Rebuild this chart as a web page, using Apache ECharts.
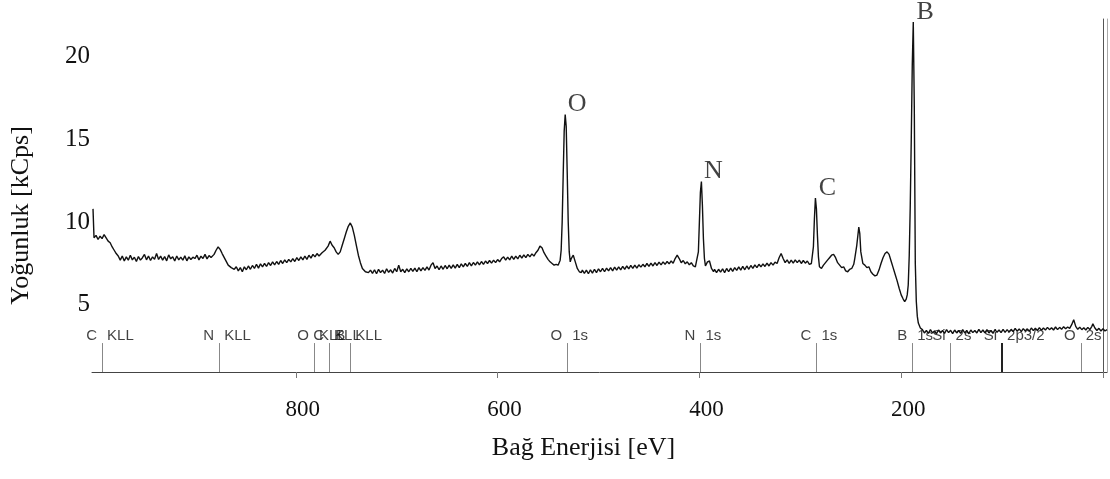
<!DOCTYPE html>
<html>
<head>
<meta charset="utf-8">
<script src="https://cdn.jsdelivr.net/npm/echarts@6/dist/echarts.min.js"></script>
<style>
  html, body { margin: 0; padding: 0; background: #fff; }
  #chart { width: 1110px; height: 479px; }
</style>
</head>
<body>
<div id="chart"></div>
<script>
// XPS survey spectrum: [binding energy eV, intensity kCps]
const spectrum = [
  [1001,10.8],[1000,9.05],[998,9.2],[996,8.95],[994,9.15],[992,9.0],[990,9.25],[988,9.05],[986,8.85],[984,8.75],[982,8.5],[980,8.3],[978,8.1],[976,7.95],
  [974,7.7],[972,7.95],[970,7.65],[968,7.9],[966,7.7],[964,8.0],[962,7.72],[960,7.88],[958,7.62],[956,7.92],[954,7.7],[952,7.85],[950,8.05],[948,7.72],[946,7.95],[944,7.68],[942,7.9],[940,7.75],[938,8.1],[936,7.74],[934,7.95],[932,7.7],[930,7.92],[928,7.66],[926,8.02],[924,7.78],[922,7.9],[920,7.65],[918,7.95],[916,7.72],[914,7.88],[912,7.7],[910,7.96],[908,7.66],[906,7.9],[904,7.74],[902,7.88],[900,7.8],[898,8.0],[896,7.72],[894,7.94],[892,7.8],[890,8.05],[888,7.78],[886,7.98],[884,7.86],
  [881,8.05],[879,8.3],[877,8.5],[875,8.35],[873,8.1],[870,7.75],[867,7.4],[864,7.25],[861,7.15],
  [859,7.3],[857,7.05],[855,7.25],[853,7.0],[851,7.3],[849,7.12],[847,7.35],[845,7.15],[843,7.38],[841,7.2],[839,7.45],[837,7.22],[835,7.48],[833,7.3],[831,7.5],[829,7.32],[827,7.55],[825,7.38],[823,7.6],[821,7.42],[819,7.62],[817,7.45],[815,7.68],[813,7.5],[811,7.72],[809,7.55],[807,7.75],[805,7.6],[803,7.8],[801,7.62],[799,7.85],[797,7.68],[795,7.9],[793,7.72],[791,7.95],[789,7.75],[787,8.0],[785,7.82],[783,8.05],[781,7.9],[779,8.1],[777,7.95],
  [774,8.15],[771,8.3],[768,8.55],[766,8.85],[764,8.6],[762,8.45],[760,8.2],[758,8.05],[756,8.2],[754,8.6],[752,9.0],[750,9.4],[748,9.75],[746,9.95],[744,9.7],[742,9.2],[740,8.6],[738,8.0],[736,7.55],[734,7.2],[731,7.0],[728,6.95],
  [726,7.1],[724,6.9],[722,7.12],[720,6.88],[718,7.15],[716,6.95],[714,7.1],[712,6.9],[710,7.18],[708,6.96],[706,7.12],[704,6.92],[702,7.2],[700,7.0],[698,7.4],[696,7.0],[694,7.15],[692,6.95],[690,7.18],[688,7.0],[686,7.2],[684,7.02],[682,7.22],[680,7.0],[678,7.25],[676,7.05],[674,7.25],[672,7.08],[670,7.3],[668,7.1],[666,7.4],[664,7.55],[662,7.2],[660,7.35],[658,7.12],[656,7.35],[654,7.15],[652,7.38],[650,7.18],[648,7.4],[646,7.2],[644,7.42],[642,7.22],[640,7.45],[638,7.25],[636,7.48],[634,7.3],[632,7.5],[630,7.32],[628,7.55],[626,7.35],[624,7.56],[622,7.4],[620,7.6],[618,7.42],[616,7.62],[614,7.45],[612,7.65],[610,7.5],[608,7.68],[606,7.52],[604,7.7],[602,7.55],[600,7.74],[598,7.6],[596,7.8],[594,7.9],[592,7.7],[590,7.88],[588,7.72],[586,7.95],[584,7.75],[582,7.95],[580,7.78],[578,8.0],[576,7.82],[574,8.02],[572,7.85],[570,8.05],[568,7.9],[566,8.08],[564,7.95],[562,8.15],[560,8.3],[558,8.55],[556,8.45],[554,8.15],[552,7.95],[550,7.75],[548,7.6],[546,7.5],[544,7.4],[542,7.45],
  [540,7.4],[538,7.7],[537,8.3],[536,10.0],[535,12.8],[534,15.5],[533,16.5],[532,15.8],[531,13.0],[530,10.0],[529,8.2],[528,7.6],[527,7.8],[525,8.0],[523,7.6],[521,7.2],[519,7.0],[517,6.95],
  [516,7.1],[514,6.9],[512,7.1],[510,6.88],[508,7.12],[506,6.92],[504,7.15],[502,6.95],[500,7.18],[498,7.0],[496,7.2],[494,7.0],[492,7.22],[490,7.05],[488,7.25],[486,7.05],[484,7.28],[482,7.1],[480,7.3],[478,7.12],[476,7.32],[474,7.15],[472,7.35],[470,7.18],[468,7.38],[466,7.2],[464,7.4],[462,7.22],[460,7.42],[458,7.28],[456,7.45],[454,7.3],[452,7.5],[450,7.32],[448,7.52],[446,7.35],[444,7.55],[442,7.38],[440,7.58],[438,7.42],[436,7.6],[434,7.45],[432,7.62],[430,7.48],[428,7.65],[426,7.52],[424,7.8],[422,8.0],[420,7.8],[418,7.55],[416,7.68],[414,7.48],[412,7.6],[410,7.42],[408,7.55],[406,7.35],[404,7.3],
  [403,7.4],[401,8.2],[400,10.0],[399,11.8],[398,12.45],[397,11.0],[396,9.0],[395,7.8],[394,7.35],[392,7.6],[390,7.65],[388,7.2],[386,7.0],
  [385,7.15],[383,6.95],[381,7.15],[379,6.98],[377,7.18],[375,6.95],[373,7.2],[371,7.0],[369,7.22],[367,7.02],[365,7.25],[363,7.08],[361,7.3],[359,7.1],[357,7.32],[355,7.12],[353,7.35],[351,7.15],[349,7.38],[347,7.2],[345,7.42],[343,7.25],[341,7.45],[339,7.3],[337,7.48],[335,7.32],[333,7.52],[331,7.35],[329,7.55],[327,7.4],[325,7.58],[323,7.5],[321,7.85],[319,8.1],[317,7.8],[315,7.55],[313,7.72],[311,7.5],[309,7.7],[307,7.52],[305,7.72],[303,7.55],[301,7.7],[299,7.5],[297,7.68],[295,7.52],[293,7.65],[291,7.45],[289,7.5],
  [288,7.6],[287,8.5],[286,10.2],[285,11.45],[284,10.8],[283,9.2],[282,7.9],[281,7.3],[279,7.2],
  [277,7.4],[275,7.55],[273,7.7],[271,7.85],[269,8.0],[267,8.05],[265,7.85],[263,7.55],[261,7.4],[259,7.25],[257,7.3],[255,7.05],[253,7.0],[251,7.15],[249,7.2],[247,7.45],[246,7.8],[244,8.6],[242,9.7],[241,9.3],[240,8.2],[238,7.5],[236,7.4],[234,7.25],[232,7.3],[230,7.0],[228,6.85],[226,6.75],[224,6.8],[222,7.1],[220,7.5],[218,7.85],[216,8.1],[214,8.2],[212,8.05],[210,7.65],[208,7.25],[206,6.85],[204,6.45],[202,6.0],[200,5.6],[198,5.35],[196.5,5.2],[195,5.35],[194,5.6],[193,6.2],[192,8.0],[191,11.0],[190,15.0],[189,19.5],[188,22.1],[187,17.0],[186,7.5],[185,5.2],[184,4.3],[183,3.9],[181,3.6],
  [179,3.5],[177,3.3],[175,3.45],[173,3.28],[171,3.5],[169,3.3],[167,3.42],[165,3.25],[163,3.48],[161,3.3],[159,3.45],[157,3.28],[155,3.5],[153,3.32],[151,3.46],[149,3.26],[147,3.48],[145,3.3],[143,3.45],[141,3.28],[139,3.5],[137,3.3],[135,3.45],[133,3.25],[131,3.48],[129,3.32],[127,3.45],[125,3.3],[123,3.52],[121,3.32],[119,3.48],[117,3.3],[115,3.5],[113,3.3],[111,3.46],[109,3.28],[107,3.5],[105,3.34],[103,3.48],[101,3.32],[99,3.52],[97,3.34],[95,3.5],[93,3.35],[91,3.52],[89,3.38],[87,3.58],[85,3.4],[83,3.55],[81,3.38],[79,3.56],[77,3.42],[75,3.55],[73,3.4],[71,3.6],[69,3.44],[67,3.58],[65,3.45],[63,3.62],[61,3.46],[59,3.6],[57,3.48],[55,3.64],[53,3.5],[51,3.62],[49,3.48],[47,3.66],[45,3.5],[43,3.64],[41,3.52],[39,3.68],[37,3.55],[35,3.66],[33,3.58],[31,3.8],[29,4.1],[27,3.7],[25,3.52],[23,3.65],[21,3.5],[19,3.62],[17,3.48],[15,3.64],[13,3.5],[11,3.7],[10,3.85],[8,3.6],[6,3.45],[4,3.58],[2,3.42],[0,3.55],[-2,3.42],[-4,3.5]
];

const xTickValues = [0, 200, 400, 600, 800];
const xLabelValues = [200, 400, 600, 800];
const yLabelValues = [5, 10, 15, 20];

// reference lines for the element positions along the bottom
const refEnergies = [992, 876, 782, 767, 746, 531, 399, 284, 189, 151, 100, 22];
const refElements = ['C', 'N', 'O', 'C', 'B', 'O', 'N', 'C', 'B', 'Si', 'Si', 'O'];
const refOrbitals = ['KLL', 'KLL', 'KLL', 'KLL', 'KLL', '1s', '1s', '1s', '1s', '2s', '2p3/2', '2s'];

// labelled peaks
const peakNames = ['O', 'N', 'C', 'B'];
const peakEnergies = [533, 398, 285, 188];
const peakHeights = [16.5, 12.45, 11.45, 22.1];

const Y_MIN = 0.94, Y_MAX = 22.28;
const REF_TOP = 2.69, REF_TEXT = 3.12;

const serif = '"Liberation Serif", "DejaVu Serif", serif';
const sans = '"Liberation Sans", Arial, sans-serif';

const chart = echarts.init(document.getElementById('chart'));

const refLines = refEnergies.map((e, i) => [
  { coord: [e, Y_MIN], lineStyle: refOrbitals[i] === '2p3/2' ? { color: '#222', width: 2 } : undefined },
  { coord: [e, REF_TOP] },
]);

const option = {
  animation: false,
  backgroundColor: '#fff',
  grid: { left: 92, right: 3, top: 19, bottom: 107 },
  xAxis: {
    type: 'value',
    inverse: true,
    min: -4,
    max: 1002,
    name: 'Bağ Enerjisi [eV]',
    nameLocation: 'middle',
    nameGap: 63,
    nameTextStyle: { fontFamily: serif, fontSize: 26, color: '#111', padding: [0, 32, 0, 0] },
    axisLine: { onZero: false, lineStyle: { color: '#444', width: 1 } },
    axisTick: { customValues: xTickValues, length: 6, lineStyle: { color: '#777' } },
    axisLabel: { customValues: xLabelValues, margin: 26, fontFamily: serif, fontSize: 23, color: '#111', padding: [0, 0, 0, 14] },
    splitLine: { show: false },
  },
  yAxis: [
    {
      type: 'value',
      min: Y_MIN,
      max: Y_MAX,
      name: 'Yoğunluk [kCps]',
      nameLocation: 'middle',
      nameGap: 58,
      nameTextStyle: { fontFamily: serif, fontSize: 26, color: '#111', padding: [0, 40, 0, 0] },
      axisLine: { show: true, lineStyle: { color: '#555', width: 1 } },
      axisTick: { show: false },
      axisLabel: { customValues: yLabelValues, margin: 2, fontFamily: serif, fontSize: 25, color: '#111' },
      splitLine: { show: false },
    },
    {
      type: 'value',
      position: 'right',
      min: Y_MIN,
      max: Y_MAX,
      axisLine: { show: true, lineStyle: { color: '#aaa', width: 1 } },
      axisTick: { show: false },
      axisLabel: { show: false },
      splitLine: { show: false },
    },
  ],
  series: [
    {
      name: 'ref-elements',
      type: 'scatter',
      symbolSize: 0,
      silent: true,
      data: refEnergies.map((e, i) => ({ value: [e, REF_TEXT], name: refElements[i] })),
      label: { show: true, position: 'left', distance: 5, formatter: p => p.name, fontFamily: sans, fontSize: 15, color: '#111' },
      markLine: {
        silent: true,
        symbol: ['none', 'none'],
        label: { show: false },
        lineStyle: { color: '#888', width: 1, type: 'solid' },
        data: refLines,
      },
    },
    {
      name: 'ref-orbitals',
      type: 'scatter',
      symbolSize: 0,
      silent: true,
      data: refEnergies.map((e, i) => ({ value: [e, REF_TEXT], name: refOrbitals[i] })),
      label: { show: true, position: 'right', distance: 5, formatter: p => p.name, fontFamily: sans, fontSize: 15, color: '#111' },
    },
    {
      name: 'spectrum',
      type: 'line',
      data: spectrum,
      symbol: 'none',
      lineStyle: { color: '#111', width: 1.4 },
    },
    {
      name: 'peaks',
      type: 'scatter',
      symbolSize: 0,
      silent: true,
      clip: false,
      data: peakEnergies.map((e, i) => ({ value: [e, peakHeights[i]], name: peakNames[i] })),
      label: { show: true, position: 'inside', offset: [12, -10], formatter: p => p.name, fontFamily: serif, fontSize: 26, color: '#111' },
    },
  ],
};

chart.setOption(option);
</script>
</body>
</html>
